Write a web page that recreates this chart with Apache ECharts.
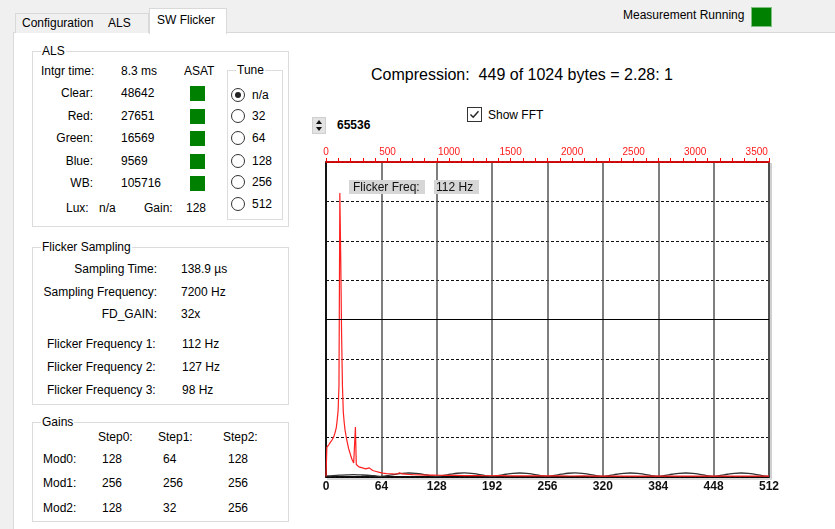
<!DOCTYPE html>
<html><head><meta charset="utf-8">
<script src="https://cdn.jsdelivr.net/npm/echarts@6.0.0/dist/echarts.min.js"></script>
<style>
html,body{margin:0;padding:0;width:835px;height:529px;overflow:hidden;background:#fff;font-family:"Liberation Sans",Arial,sans-serif;font-size:12px;color:#000;}
#gui{position:absolute;left:0;top:0;width:835px;height:529px;z-index:1;}
#chart{position:absolute;left:0;top:0;width:835px;height:529px;z-index:2;pointer-events:none;}
#over{position:absolute;left:0;top:0;width:835px;height:529px;z-index:3;pointer-events:none;}
.t{position:absolute;white-space:pre;line-height:14px;height:14px;}
</style></head>
<body>
<div id="gui"></div>
<div id="chart"></div>
<div id="over"></div>
<script>
// ---------------- data ----------------
const redBins = [0,1,2,3,4,5,6,7,8,9,10,11,12,13,14,15,16,17,18,19,20,21,22,23,24,25,26,27,28,29,30,31,32,33,34,35,36,37,38,40,42,44,46,48,50,51,54,58,62,66,70,74,78,82,85,88,92,96,100,108,116,124,132,140,150,160,170,180,190,200,210,220,232,244,256,270,284,298,312,326,340,356,372,388,404,420,436,452,468,484,500,512];
const redVals = [100,6200,6450,6650,6860,7200,7500,7700,8100,8400,8950,9600,10400,12000,13800,19000,59100,46000,30000,19000,13500,11400,9800,8700,7700,6900,6000,5400,4800,4200,3700,3300,2900,2700,10400,2600,2300,2200,2100,2000,1900,1800,1700,1550,1900,1500,1350,1150,950,800,720,680,640,620,900,640,580,520,480,440,400,380,360,340,320,300,310,280,260,270,250,240,260,230,220,230,210,220,200,210,200,190,200,190,200,180,190,180,190,170,180,170];
const blackBins = [0,8,16,24,32,40,48,56,64,72,80,88,96,104,112,120,128,136,144,152,160,168,176,184,192,200,208,216,224,232,240,248,256,264,272,280,288,296,304,312,320,328,336,344,352,360,368,376,384,392,400,408,416,424,432,440,448,456,464,472,480,488,496,504,512];
const blackVals = [250,300,380,450,480,430,360,260,150,320,560,760,830,760,560,300,150,330,580,780,840,770,560,300,140,320,570,770,830,760,550,290,140,330,580,780,840,770,560,300,140,320,570,770,830,760,550,290,140,320,570,770,830,760,550,290,140,320,570,770,830,760,550,290,140];
const fullScale = 65536;
const binCount = 512;
const nyquistHz = 3600;
const binTickStep = 64;
const hzTickStep = 500;
const centerLevel = 32768;

// ---------------- GUI ----------------
const gui = document.getElementById('gui');
const over = document.getElementById('over');
function el(x,y,w,h,css,parent){const d=document.createElement('div');d.style.cssText='position:absolute;left:'+x+'px;top:'+y+'px;width:'+w+'px;height:'+h+'px;'+(css||'');(parent||gui).appendChild(d);return d;}
function txt(x,yc,s,css,align,parent){const d=document.createElement('div');d.className='t';d.textContent=s;d.style.left=x+'px';d.style.top=(yc-7)+'px';if(css)d.style.cssText+=css;if(align==='right')d.style.transform='translateX(-100%)';(parent||gui).appendChild(d);return d;}
function group(x,y,w,h,title){el(x,y,w,h,'border:1px solid #dcdcdc;box-sizing:border-box;');txt(x+9,y,title,'background:#fff;padding:0 1px;');}
function radio(cx,cy,on){const r=el(cx-7,cy-7,14,14,'border:1px solid #333;border-radius:50%;box-sizing:border-box;background:#fff;');if(on){el(3,3,6,6,'border-radius:50%;background:#222;',r);}}
function green(x,yc,w,h){el(x,yc-h/2,w,h,'background:#008000;');}

// window background + tab strip
el(0,0,835,32,'background:#f0f0f0;');
el(0,32,13,497,'background:#f0f0f0;');
el(13,32,822,1,'background:#d9d9d9;');
el(13,32,1,497,'background:#d9d9d9;');
el(15,13,86,20,'background:#f0f0f0;border:1px solid #d9d9d9;border-bottom:none;box-sizing:border-box;');
el(100,13,49,20,'background:#f0f0f0;border:1px solid #d9d9d9;border-bottom:none;border-left:none;box-sizing:border-box;');
el(149,8,78,26,'background:#fff;border:1px solid #d9d9d9;border-bottom:none;box-sizing:border-box;');
txt(22,23,'Configuration');
txt(108,23,'ALS');
txt(157,20,'SW Flicker');
txt(623,15,'Measurement Running');
el(751,7,21,20,'background:#008000;border:1px solid #7fbf7f;box-sizing:border-box;');

// ALS group
group(32,51,257,176,'ALS');
txt(41,71,'Intgr time:');
txt(121,71,'8.3 ms');
txt(184,71,'ASAT');
const alsNames = ['Clear:','Red:','Green:','Blue:','WB:'];
const alsVals = ['48642','27651','16569','9569','105716'];
const alsY = [93,116,138,161,183];
for(let i=0;i<5;i++){txt(93,alsY[i],alsNames[i],'', 'right');txt(121,alsY[i],alsVals[i]);green(190,alsY[i]+0.5,15,15);}
txt(66,208,'Lux:');txt(99,208,'n/a');txt(144,208,'Gain:');txt(186,208,'128');
// Tune group
group(227,70,56,150,'Tune');
const tuneOpts = ['n/a','32','64','128','256','512'];
const tuneY = [95,116,138,161,182,204];
for(let i=0;i<6;i++){radio(238,tuneY[i],i===0);txt(252,tuneY[i],tuneOpts[i]);}

// Flicker Sampling group
group(32,247,257,158,'Flicker Sampling');
txt(157,269,'Sampling Time:','','right');txt(181,269,'138.9 µs');
txt(157,292,'Sampling Frequency:','','right');txt(181,292,'7200 Hz');
txt(157,314,'FD_GAIN:','','right');txt(181,314,'32x');
txt(47,344,'Flicker Frequency 1:');txt(182,344,'112 Hz');
txt(47,367,'Flicker Frequency 2:');txt(182,367,'127 Hz');
txt(47,390,'Flicker Frequency 3:');txt(182,390,'98 Hz');

// Gains group
group(32,422,257,100,'Gains');
txt(98,437,'Step0:');txt(158,437,'Step1:');txt(223,437,'Step2:');
const gainRows = ['Mod0:','Mod1:','Mod2:'];
const gainVals = [['128','64','128'],['256','256','256'],['128','32','256']];
const gainY = [459,483,508];
for(let r=0;r<3;r++){txt(43,gainY[r],gainRows[r]);txt(102,gainY[r],gainVals[r][0]);txt(163,gainY[r],gainVals[r][1]);txt(228,gainY[r],gainVals[r][2]);}

// header over chart
txt(371,75,'Compression:  449 of 1024 bytes = 2.28: 1','font-size:16px;line-height:14px;');
const cb = el(467,107,15,15,'border:1px solid #333;box-sizing:border-box;background:#fff;');
cb.innerHTML='<svg width="13" height="13" viewBox="0 0 13 13" style="position:absolute;left:0;top:0"><path d="M2.5 6.5 L5.2 9.3 L10.5 3.2" fill="none" stroke="#222" stroke-width="1.4"/></svg>';
txt(488,115,'Show FFT');
const sp = el(312,117,14,17,'background:#e3e3e3;border:1px solid #cfcfcf;box-sizing:border-box;');
sp.innerHTML='<div style="position:absolute;left:3px;top:2px;width:0;height:0;border-left:3px solid transparent;border-right:3px solid transparent;border-bottom:4px solid #111"></div><div style="position:absolute;left:3px;top:9px;width:0;height:0;border-left:3px solid transparent;border-right:3px solid transparent;border-top:4px solid #111"></div>';
txt(337,125,'65536','font-weight:bold;');
// plot shadow
el(770,163,2,316,'background:#cfcfcf;');
el(327,478,445,2,'background:#d8d8d8;');
// flicker freq labels on top of plot
el(349,180,76,14,'background:#d6d6d6;',over);
el(434,180,45,14,'background:#d6d6d6;',over);
txt(353,187,'Flicker Freq:','color:#111;',null,over);
txt(436,187,'112 Hz','color:#111;',null,over);

// ---------------- chart ----------------
const chart = echarts.init(document.getElementById('chart'), null, {renderer:'canvas'});
const redData = redBins.map((b,i)=>[b,redVals[i]]);
const blackData = blackBins.map((b,i)=>[b,blackVals[i]]);
chart.setOption({
  animation:false,
  backgroundColor:'transparent',
  grid:{left:326,top:162,width:443,height:315,show:true,borderColor:'#000',borderWidth:1.5,backgroundColor:'transparent'},
  xAxis:[
    {type:'value',min:0,max:binCount,interval:binTickStep,position:'bottom',
     axisLine:{show:true,onZero:false,lineStyle:{color:'#000',width:1.5}},
     axisTick:{show:false},
     axisLabel:{show:true,margin:4,fontFamily:'Liberation Sans',fontSize:12,fontWeight:'bold',color:'#111',formatter:v=>String(v)},
     splitLine:{show:true,lineStyle:{color:'#555',width:1.5}}},
    {type:'value',min:0,max:nyquistHz,interval:hzTickStep,position:'top',
     axisLine:{show:true,onZero:false,lineStyle:{color:'#ff0000',width:1.5}},
     axisTick:{show:true,length:4,lineStyle:{color:'#ff0000',width:1}},
     minorTick:{show:true,splitNumber:5,length:4,lineStyle:{color:'#ff0000',width:1}},
     axisLabel:{margin:5,fontFamily:'Liberation Sans',fontSize:10,color:'#ff1a1a',showMaxLabel:false,formatter:v=>String(v)},
     splitLine:{show:false}}
  ],
  yAxis:{type:'value',min:0,max:fullScale,interval:fullScale/8,
     axisLabel:{show:false},axisTick:{show:false},
     axisLine:{show:true,lineStyle:{color:'#000',width:1.5}},
     splitLine:{show:true,lineStyle:{color:'#111',width:1.2,type:[3,2]}}},
  series:[
    {type:'line',name:'envelope',data:blackData,xAxisIndex:0,smooth:true,showSymbol:false,symbol:'none',
     lineStyle:{color:'#333',width:1.3},z:3,
     markLine:{silent:true,symbol:'none',label:{show:false},lineStyle:{color:'#000',type:'solid',width:1},data:[{yAxis:centerLevel}]}},
    {type:'line',name:'FFT',data:redData,xAxisIndex:0,showSymbol:false,symbol:'none',
     lineStyle:{color:'#ff2020',width:1.2},z:4}
  ]
});
</script>
</body></html>
